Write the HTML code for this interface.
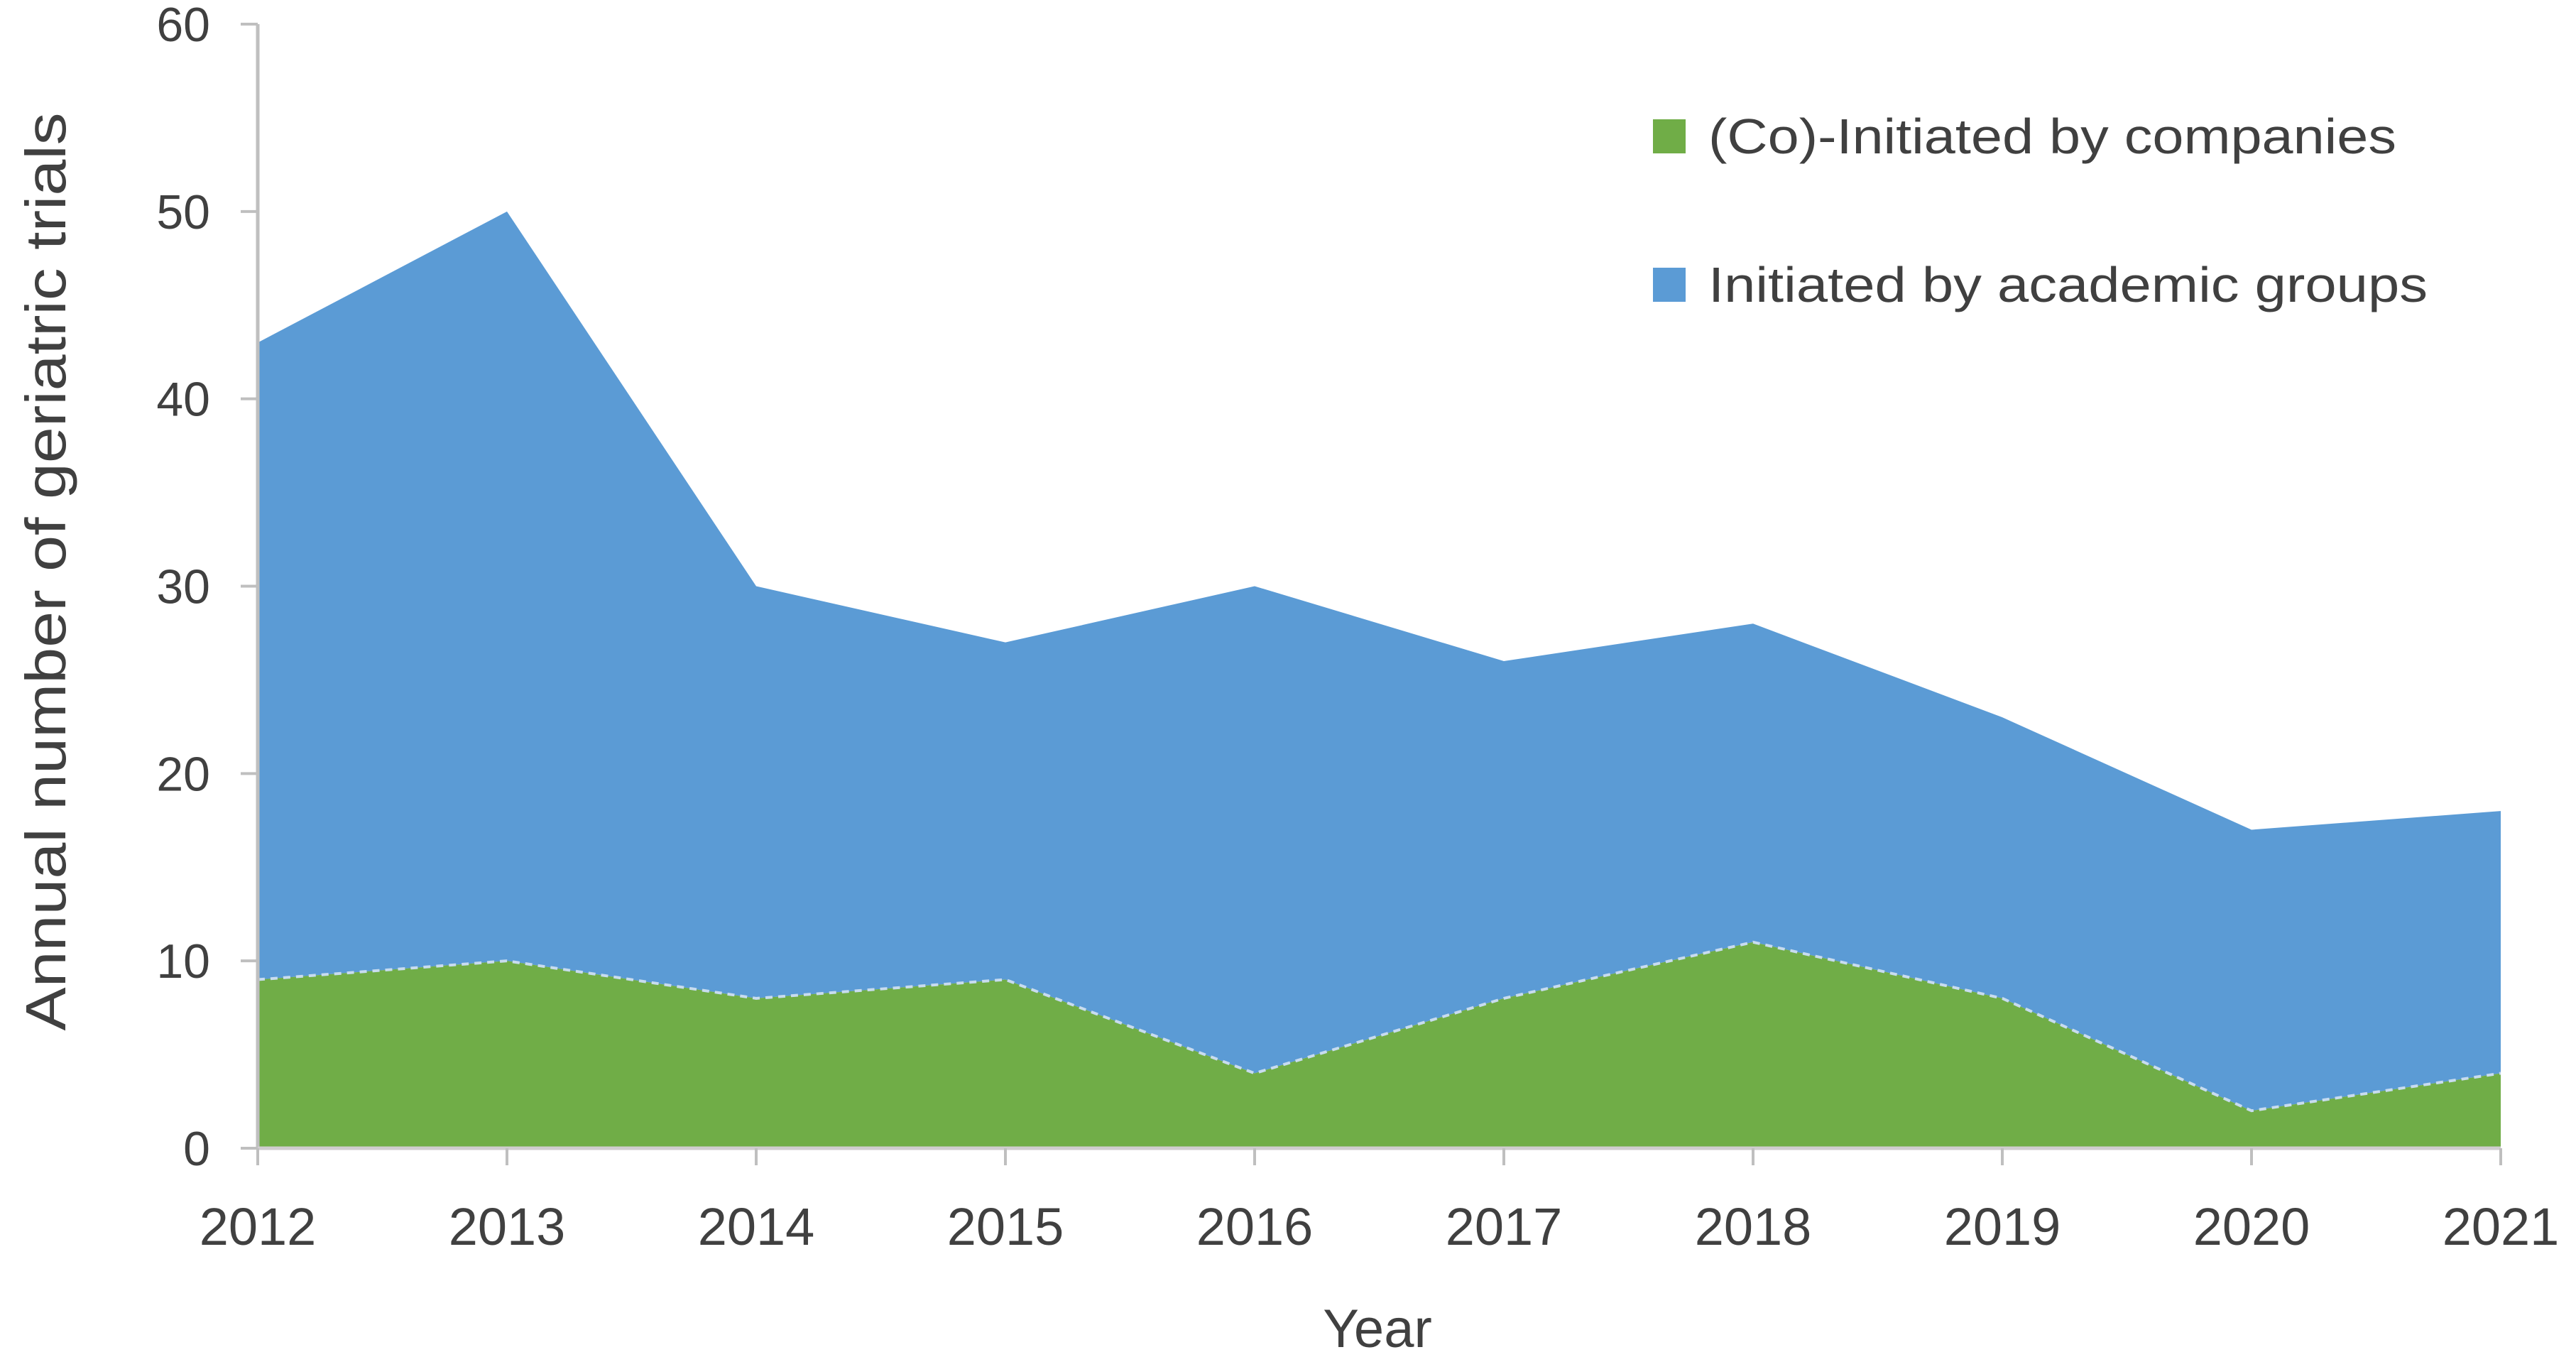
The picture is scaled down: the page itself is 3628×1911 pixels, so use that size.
<!DOCTYPE html>
<html><head><meta charset="utf-8"><style>
html,body{margin:0;padding:0;background:#fff;}
svg{display:block;}
text{font-family:"Liberation Sans",sans-serif;fill:#404040;}
</style></head><body>
<svg id="chart" width="3628" height="1911" viewBox="0 0 3628 1911">
<g id="plot"></g>
<g id="axes"></g>
<text transform="translate(92,805) rotate(-90)" text-anchor="middle" font-size="80" textLength="1293" lengthAdjust="spacingAndGlyphs">Annual number of geriatric trials</text>
<text x="1940" y="1897" text-anchor="middle" font-size="76">Year</text>
<g>
<rect x="2328" y="168" width="46" height="48" fill="#70ad47"/>
<text x="2406" y="216" font-size="70" textLength="969" lengthAdjust="spacingAndGlyphs">(Co)-Initiated by companies</text>
<rect x="2328" y="377" width="46" height="48" fill="#5b9bd5"/>
<text x="2406" y="425" font-size="70" textLength="1013" lengthAdjust="spacingAndGlyphs">Initiated by academic groups</text>
</g>
</svg>
<script>
const years = ["2012","2013","2014","2015","2016","2017","2018","2019","2020","2021"];
const companies = [9,10,8,9,4,8,11,8,2,4];
const academic = [34,40,22,18,26,18,17,15,15,14];
const yTicks = [0,10,20,30,40,50,60];

const NS = "http://www.w3.org/2000/svg";
const x0 = 363, x1 = 3522, yBase = 1617, yTop = 34, yMax = 60;
function xs(i){ return x0 + (x1 - x0) * i / (years.length - 1); }
function ys(v){ return yBase - (yBase - yTop) * v / yMax; }
function mk(tag, attrs, parent){
  const e = document.createElementNS(NS, tag);
  for (const k in attrs) e.setAttribute(k, attrs[k]);
  parent.appendChild(e); return e;
}
const plot = document.getElementById('plot');
const axes = document.getElementById('axes');

const total = companies.map((c,i)=>c+academic[i]);
let pTop = years.map((_,i)=>xs(i)+','+ys(total[i])).join(' ');
let pMid = years.map((_,i)=>xs(i)+','+ys(companies[i])).join(' ');
let pMidRev = years.map((_,i)=>xs(i)+','+ys(companies[i])).reverse().join(' ');

const aArea = mk('polygon', {points: pTop + ' ' + pMidRev, fill:'#5b9bd5'}, plot);


const cArea = mk('polygon', {points: xs(0)+','+yBase+' '+pMid+' '+xs(years.length-1)+','+yBase, fill:'#70ad47'}, plot);


const bLine = mk('polyline', {points: pMid, fill:'none', stroke:'#c8dcef', 'stroke-width':4, 'stroke-dasharray':'10 8'}, plot);



const yAxis = mk('line', {x1:x0, y1:yTop, x2:x0, y2:yBase, stroke:'#bfbfbf', 'stroke-width':5}, axes);


const xAxis = mk('line', {x1:x0, y1:yBase, x2:x1, y2:yBase, stroke:'#d0cdd0', 'stroke-width':5}, axes);



yTicks.forEach(v=>{
  const t = mk('line', {x1:x0-24, y1:ys(v), x2:x0, y2:ys(v), stroke:'#bfbfbf', 'stroke-width':4}, axes);
  
  
  const l = mk('text', {x:296, y:ys(v)+24, 'text-anchor':'end', 'font-size':68}, axes);
  
  
  l.textContent = v;
});
years.forEach((yr,i)=>{
  const t = mk('line', {x1:xs(i), y1:yBase, x2:xs(i), y2:yBase+24, stroke:'#bfbfbf', 'stroke-width':4}, axes);
  
  
  const l = mk('text', {x:xs(i), y:1753, 'text-anchor':'middle', 'font-size':74}, axes);
  
  
  l.textContent = yr;
});
</script>
</body></html>
